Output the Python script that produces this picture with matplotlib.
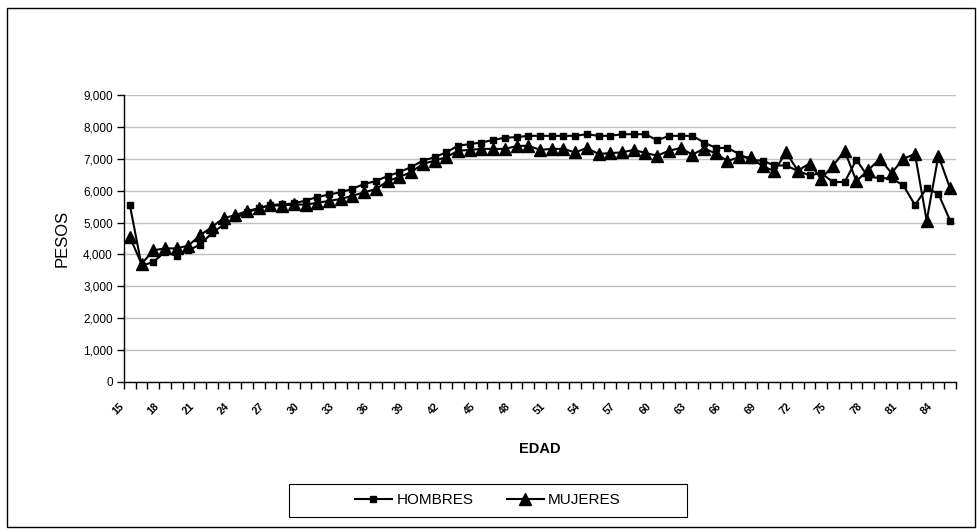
import matplotlib
matplotlib.use('Agg')
import matplotlib.pyplot as plt
from matplotlib.patches import Rectangle
from matplotlib.ticker import FuncFormatter, FixedLocator
from matplotlib.transforms import ScaledTranslation

plt.rcParams['font.family'] = ['Liberation Sans', 'DejaVu Sans']

# Edad de 15 a 85 años
edades = list(range(15, 86))

hombres = [5550, 3650, 3760, 4080, 3950, 4130, 4310, 4670, 4930, 5140,
           5320, 5450, 5550, 5570, 5600, 5690, 5800, 5880, 5950, 6060,
           6210, 6300, 6460, 6580, 6740, 6940, 7050, 7200, 7410, 7460,
           7510, 7590, 7660, 7680, 7720, 7720, 7720, 7720, 7720, 7770,
           7720, 7720, 7770, 7770, 7770, 7580, 7720, 7720, 7720, 7510,
           7340, 7340, 7150, 6960, 6940, 6790, 6790, 6620, 6480, 6550,
           6270, 6270, 6970, 6430, 6400, 6380, 6170, 5550, 6080, 5900,
           5060]

mujeres = [4550, 3700, 4130, 4190, 4190, 4280, 4600, 4860, 5140, 5230,
           5360, 5450, 5540, 5530, 5570, 5560, 5620, 5680, 5740, 5840,
           5950, 6050, 6300, 6430, 6580, 6840, 6940, 7050, 7250, 7280,
           7310, 7310, 7310, 7400, 7410, 7280, 7310, 7310, 7200, 7340,
           7150, 7180, 7200, 7280, 7180, 7100, 7250, 7340, 7130, 7320,
           7170, 6930, 7050, 7050, 6760, 6620, 7200, 6630, 6850, 6380,
           6780, 7250, 6300, 6640, 7000, 6550, 7000, 7150, 5060, 7100,
           6070]

W, H = 977, 529
fig = plt.figure(figsize=(W / 100, H / 100), dpi=100)
ax = fig.add_axes([0.1269, 0.2779, 0.8516, 0.5425])

x = list(range(len(edades)))
ax.plot(x, hombres, color='black', lw=1.5, marker='s', ms=4.5, label='HOMBRES')
ax.plot(x, mujeres, color='black', lw=1.5, marker='^', ms=8, label='MUJERES')

ax.set_xlim(-0.5, len(edades) - 0.5)
ax.set_ylim(0, 9000)
ax.set_yticks(range(0, 9001, 1000))
ax.yaxis.set_major_formatter(FuncFormatter(lambda v, p: f'{int(v):,}'))
ax.grid(axis='y', color='#c0c0c0', lw=1)
ax.set_axisbelow(True)

# marcas en los límites de cada categoría, etiquetas cada 3 edades
ax.xaxis.set_major_locator(FixedLocator([i - 0.5 for i in range(len(edades) + 1)]))
ax.xaxis.set_major_formatter(FuncFormatter(lambda v, p: ''))
pos = list(range(0, len(edades), 3))
ax.xaxis.set_minor_locator(FixedLocator(pos))
ax.set_xticklabels([str(edades[i]) for i in pos], minor=True, rotation=45,
                   fontsize=7.5, fontweight='bold')
ax.tick_params(axis='x', which='major', direction='out', length=5, width=1)
ax.tick_params(axis='x', which='minor', length=0, pad=14)
ax.tick_params(axis='y', direction='out', length=5, width=1, labelsize=8.5, pad=3)
for lab in ax.get_xticklabels(minor=True):
    lab.set_transform(lab.get_transform() + ScaledTranslation(-0.12, 0, fig.dpi_scale_trans))

for s in ['top', 'right']:
    ax.spines[s].set_visible(False)
for s in ['left', 'bottom']:
    ax.spines[s].set_linewidth(1)

ax.set_ylabel('PESOS', fontsize=12, labelpad=10)
ax.set_xlabel('EDAD', fontsize=10.5, fontweight='bold', labelpad=18)

leg = fig.legend(loc='center', bbox_to_anchor=(488 / W, 1 - 500 / H), ncol=2,
                 fontsize=11, frameon=False, handlelength=2.4,
                 columnspacing=2.2, handletextpad=0.3)

# recuadro de la leyenda
fig.patches.append(Rectangle((289 / W, 1 - 517 / H), 398 / W, 33 / H,
                             transform=fig.transFigure, fill=False, ec='black', lw=0.8))

# borde del área del gráfico
fig.patches.append(Rectangle((0.007, 0.004), 0.991, 0.981, transform=fig.transFigure,
                             fill=False, ec='black', lw=1))

fig.savefig('out.png', dpi=100)
